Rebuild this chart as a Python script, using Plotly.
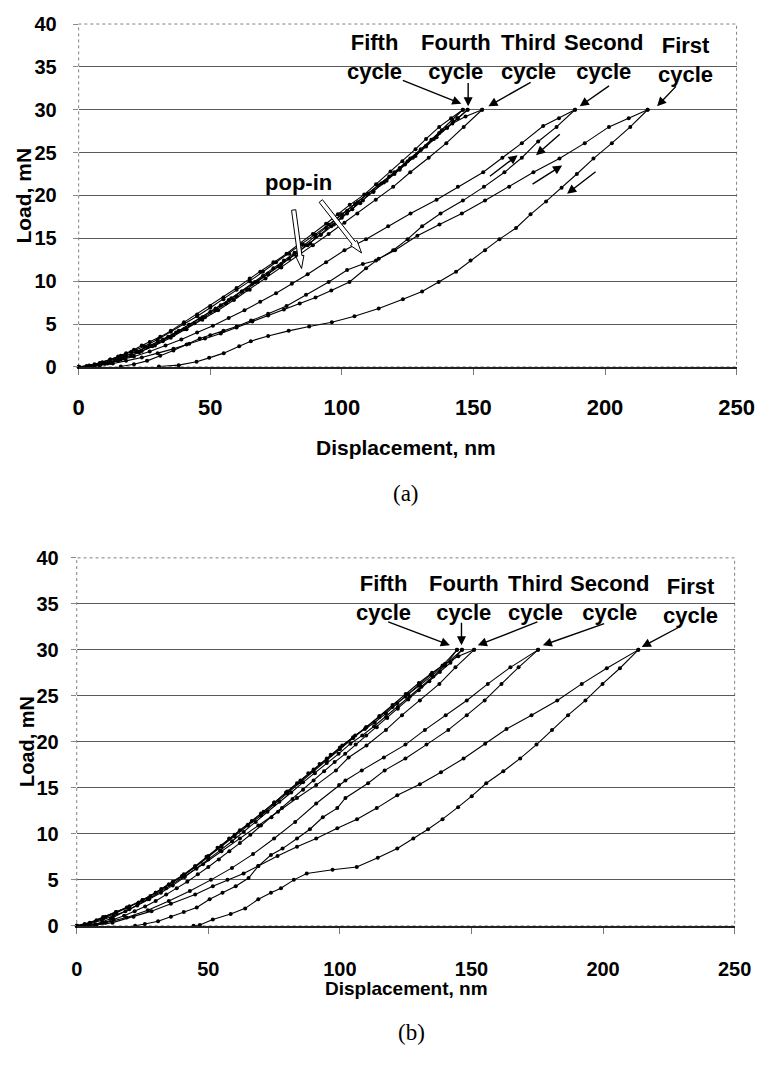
import plotly.graph_objects as go

# ---------------- data: load (mN) vs displacement (nm) ----------------
# (a) five loading/unloading cycles
a_c1_load_x = [0, 4, 8, 13, 18, 24, 30, 36, 42, 48, 54, 60, 66, 72, 78, 84, 90, 96, 102.9, 109.2, 114, 120.2, 128.7, 137.1, 145.6, 154.4, 163.6, 172.8, 182.7, 192.3, 201.5, 209, 216.2]
a_c1_load_y = [0, 0.05, 0.2, 0.4, 0.7, 1.1, 1.6, 2.1, 2.7, 3.3, 3.9, 4.6, 5.3, 6.0, 6.7, 7.4, 8.1, 8.9, 9.9, 11.5, 12.6, 13.6, 15.3, 16.6, 17.9, 19.4, 21.0, 22.7, 24.3, 26.1, 28.0, 29.0, 30.0]
a_c1_unload_x = [216.2, 209.6, 202.6, 195.6, 189.3, 183.5, 177.6, 171.7, 166.2, 159.9, 154.4, 148.9, 143.4, 136.8, 130.5, 123.2, 114.0, 104.8, 96.2, 87.6, 79.8, 72.0, 65.4, 61.0, 55.1, 49.6, 44.8, 38.0, 30.5]
a_c1_unload_y = [30.0, 28.0, 26.1, 24.3, 22.5, 20.9, 19.3, 17.8, 16.2, 14.9, 13.6, 12.4, 11.1, 9.9, 8.8, 7.9, 6.8, 5.9, 5.2, 4.7, 4.2, 3.6, 3.0, 2.4, 1.6, 1.05, 0.6, 0.2, 0.05]
a_c2_load_x = [0, 5, 10, 15, 21, 27, 33, 39, 45, 51, 57, 63, 69, 75, 81, 87, 94, 101, 109.2, 117.6, 126.1, 136.0, 144.1, 153.7, 161.0, 168.4, 176.5, 182.5, 188.6]
a_c2_load_y = [0, 0.1, 0.35, 0.7, 1.2, 1.8, 2.5, 3.2, 4.0, 4.8, 5.7, 6.6, 7.6, 8.6, 9.7, 10.8, 12.2, 13.6, 14.9, 16.4, 17.9, 19.5, 21.0, 22.7, 24.4, 26.1, 28.1, 29.0, 30.0]
a_c2_unload_x = [188.6, 181.6, 174.6, 168.4, 161.8, 154.0, 146.0, 137.5, 130.5, 125.0, 119.5, 113.0, 108.0, 102.0, 95.0, 86.4, 79.0, 72.0, 65.5, 60.0, 55.0, 50.0, 46.0, 41.0, 36.0, 31.0, 26.0, 21.0, 16.0]
a_c2_unload_y = [30.0, 28.0, 26.3, 24.4, 22.7, 21.0, 19.4, 17.9, 16.4, 14.9, 13.6, 12.4, 12.0, 11.3, 9.9, 8.4, 7.1, 6.2, 5.4, 4.7, 4.2, 3.7, 3.3, 2.6, 1.9, 1.3, 0.7, 0.3, 0.05]
a_c3_load_x = [0, 4, 8, 12, 17, 22, 27, 32, 37, 42, 47, 52, 57, 62, 67, 72, 77, 82, 87, 92, 97, 102, 107, 112, 117, 122, 127, 132, 137, 142, 147, 153.3]
a_c3_load_y = [0, 0.1, 0.35, 0.7, 1.2, 1.8, 2.5, 3.2, 4.0, 4.9, 5.8, 6.8, 7.8, 8.8, 9.9, 10.9, 12.0, 13.1, 14.2, 15.4, 16.6, 17.9, 19.1, 20.4, 21.7, 23.0, 24.4, 25.8, 27.3, 28.4, 29.2, 30.0]
a_c3_unload_x = [153.3, 146.3, 139.7, 133.0, 126.0, 119.5, 112.9, 105.9, 101.0, 95.0, 89.0, 83.0, 77.0, 71.0, 65.0, 59.0, 53.0, 47.0, 41.0, 35.0, 29.0, 23.0, 17.0, 11.0, 6.0]
a_c3_unload_y = [30.0, 28.0, 26.1, 24.4, 22.7, 21.0, 19.5, 17.9, 16.8, 15.5, 14.2, 12.9, 11.6, 10.3, 9.0, 7.8, 6.6, 5.5, 4.4, 3.4, 2.5, 1.7, 1.0, 0.4, 0.1]
a_c4_load_x = [0, 4, 8, 12, 16, 20, 25, 30, 35, 40, 45, 50, 55, 60, 65, 70, 75, 80, 85, 90, 95, 100, 105, 110, 115, 120, 125, 130, 135, 140, 144, 147.8]
a_c4_load_y = [0, 0.15, 0.45, 0.85, 1.3, 1.75, 2.4, 3.2, 4.1, 5.0, 5.9, 6.9, 7.9, 9.0, 10.0, 11.1, 12.2, 13.2, 14.3, 15.4, 16.6, 17.8, 19.0, 20.2, 21.4, 22.7, 24.0, 25.3, 26.6, 27.9, 29.0, 30.0]
a_c4_unload_x = [147.8, 144, 140, 136, 132, 128, 124, 120, 116, 112, 108, 104, 100, 96, 92, 88, 84, 80, 76, 72, 68, 64, 60, 56, 52, 48, 44, 40, 36, 32, 28, 24, 20, 16, 12, 8, 5]
a_c4_unload_y = [30.0, 29.0, 27.9, 26.8, 25.7, 24.6, 23.6, 22.5, 21.5, 20.5, 19.4, 18.4, 17.4, 16.4, 15.4, 14.4, 13.5, 12.6, 11.7, 10.8, 9.9, 9.0, 8.2, 7.4, 6.6, 5.8, 5.1, 4.4, 3.7, 3.0, 2.4, 1.85, 1.3, 0.85, 0.45, 0.15, 0]
a_c5_load_x = [0, 3, 6, 9, 12, 15, 18, 21, 24, 27, 31, 35, 40, 45, 50, 55, 60, 65, 69, 74, 79, 84, 89, 94, 98.5, 103, 108.5, 113, 118.5, 123, 128, 132, 137, 141.5, 146]
a_c5_load_y = [0, 0.1, 0.3, 0.55, 0.85, 1.2, 1.6, 2.0, 2.5, 2.9, 3.5, 4.2, 5.2, 6.1, 7.1, 8.1, 9.2, 10.3, 11.1, 12.2, 13.2, 14.4, 15.5, 16.7, 17.8, 18.9, 20.1, 21.3, 22.8, 24.0, 25.4, 26.6, 28.0, 29.0, 30.0]
a_c5_unload_x = [146, 142, 138, 134, 130, 126, 122, 118, 114, 110, 106, 102, 98, 94, 90, 86, 82, 78, 74, 70, 66, 62, 58, 54, 50, 46, 42, 38, 34, 30, 26, 22, 18, 14, 10, 6, 3]
a_c5_unload_y = [30.0, 28.8, 27.6, 26.5, 25.4, 24.3, 23.2, 22.2, 21.2, 20.2, 19.2, 18.2, 17.2, 16.2, 15.2, 14.2, 13.3, 12.4, 11.5, 10.6, 9.7, 8.8, 8.0, 7.2, 6.4, 5.6, 4.9, 4.2, 3.5, 2.9, 2.3, 1.8, 1.3, 0.8, 0.4, 0.15, 0]

# (b) five loading/unloading cycles
b_c1_load_x = [0, 7.5, 13.6, 21.6, 28.4, 35.8, 45.0, 51.7, 57.3, 63.4, 69.0, 76.3, 83.7, 91.0, 99.0, 106.5, 114.0, 121.8, 130.4, 138.4, 147.0, 155.2, 163.3, 172.8, 182.6, 191.9, 201.4, 213.4]
b_c1_load_y = [0, 0.1, 0.35, 1.0, 1.6, 2.4, 3.4, 4.3, 5.0, 5.7, 6.5, 7.6, 8.6, 9.5, 10.6, 11.6, 12.8, 14.2, 15.4, 16.7, 18.2, 19.8, 21.4, 22.9, 24.5, 26.3, 28.0, 30.0]
b_c1_unload_x = [213.4, 206.4, 199.8, 193.3, 186.7, 180.6, 174.7, 168.5, 162.1, 155.6, 150.1, 144.9, 139.0, 133.5, 127.9, 121.8, 114.4, 106.4, 97.2, 87.4, 82.5, 77.6, 73.8, 69.0, 64.0, 58.5, 51.7, 46.8, 44.4]
b_c1_unload_y = [30.0, 28.0, 26.3, 24.5, 22.9, 21.3, 19.7, 18.2, 16.8, 15.5, 14.1, 12.9, 11.6, 10.5, 9.5, 8.4, 7.4, 6.4, 6.1, 5.7, 5.0, 4.1, 3.6, 2.9, 1.9, 1.3, 0.7, 0.1, 0.0]
b_c2_load_x = [0, 4, 11, 19, 27, 35, 43, 51, 59, 67, 75, 83, 91, 99.7, 102.1, 108.3, 116.7, 124.9, 132.3, 140.2, 148.2, 156.2, 164.8, 175.3]
b_c2_load_y = [0, 0.05, 0.35, 0.9, 1.7, 2.7, 3.8, 5.0, 6.3, 7.8, 9.5, 11.3, 13.3, 15.3, 15.8, 16.9, 18.3, 19.7, 21.3, 22.9, 24.5, 26.3, 28.1, 30.0]
b_c2_unload_x = [175.3, 167.9, 161.4, 155.0, 148.2, 141.2, 132.9, 124.9, 117.0, 110.7, 102.1, 99.0, 93.5, 88.6, 83.7, 78.2, 73.8, 69.0, 65.3, 60.4, 55.4, 50.5, 45.6, 40.7, 35.8, 30.9, 25.9, 22.2]
b_c2_unload_y = [30.0, 28.1, 26.3, 24.5, 22.9, 21.3, 19.7, 18.2, 16.9, 15.5, 13.9, 12.8, 11.8, 10.5, 9.5, 8.4, 7.7, 6.5, 5.2, 4.3, 3.6, 2.9, 2.0, 1.5, 1.0, 0.5, 0.2, 0.0]
b_c3_load_x = [0, 5, 10, 15, 20, 25, 30, 35, 40, 45, 50, 55, 60, 65, 70, 75, 80, 85, 90, 95, 100, 105, 110, 115, 120, 125, 130, 135, 140, 145, 151]
b_c3_load_y = [0, 0.3, 0.8, 1.4, 2.1, 2.8, 3.6, 4.5, 5.4, 6.4, 7.5, 8.6, 9.7, 10.9, 12.0, 13.2, 14.4, 15.6, 16.8, 18.0, 19.2, 20.4, 21.6, 22.8, 24.0, 25.2, 26.4, 27.5, 28.5, 29.3, 30.0]
b_c3_unload_x = [151.0, 143.9, 137.8, 130.4, 123.6, 117.5, 110.1, 103.3, 98.5, 91.0, 83.7, 76.5, 69.0, 62.0, 55.0, 48.0, 41.0, 34.0, 27.0, 20.0, 13.0, 7.0]
b_c3_unload_y = [30.0, 28.1, 26.3, 24.5, 22.9, 21.3, 19.6, 18.3, 16.9, 15.3, 13.9, 12.4, 10.9, 9.5, 8.1, 6.7, 5.4, 4.1, 2.9, 1.8, 0.8, 0.15]
b_c4_load_x = [0, 5, 10, 15, 20, 25, 30, 35, 40, 45, 50, 55, 60, 65, 70, 75, 80, 85, 90, 95, 100, 105, 110, 115, 120, 125, 130, 135, 140, 146.4]
b_c4_load_y = [0, 0.35, 0.95, 1.5, 2.1, 2.8, 3.6, 4.5, 5.4, 6.4, 7.6, 8.7, 9.9, 11.0, 12.2, 13.4, 14.6, 15.8, 17.0, 18.2, 19.4, 20.5, 21.6, 22.7, 23.8, 24.9, 26.1, 27.2, 28.4, 30.0]
b_c4_unload_x = [146.4, 142, 138, 134, 130, 126, 122, 118, 114, 110, 106, 102, 98, 94, 90, 86, 82, 78, 74, 70, 66, 62, 58, 54, 50, 46, 42, 38, 34, 30, 26, 22, 18, 14, 10, 7, 4]
b_c4_unload_y = [30.0, 28.6, 27.6, 26.6, 25.6, 24.6, 23.6, 22.6, 21.6, 20.7, 19.7, 18.7, 17.8, 16.8, 15.8, 14.8, 13.8, 12.8, 11.8, 10.9, 9.9, 9.0, 8.1, 7.2, 6.4, 5.6, 4.8, 4.1, 3.4, 2.7, 2.1, 1.6, 1.1, 0.7, 0.35, 0.1, 0]
b_c5_load_x = [0, 3, 7.5, 11, 14.9, 19, 23.5, 28, 32.1, 36.5, 40.7, 45, 49.3, 53.5, 57.9, 62, 66.5, 71, 75.1, 79.5, 83.7, 88, 92.3, 96.5, 100.9, 105.8, 109.5, 113.2, 117.5, 121.8, 126, 130.4, 134.5, 139, 144.5]
b_c5_load_y = [0, 0.2, 0.6, 1.0, 1.5, 2.0, 2.55, 3.25, 4.0, 4.8, 5.6, 6.5, 7.5, 8.5, 9.5, 10.4, 11.4, 12.4, 13.4, 14.5, 15.5, 16.6, 17.6, 18.6, 19.6, 20.7, 21.4, 22.1, 23.1, 24.2, 25.2, 26.3, 27.3, 28.3, 30.0]
b_c5_unload_x = [144.5, 140, 135.5, 131, 126.5, 122, 117.5, 113, 108.5, 104, 99.5, 95, 90.5, 86, 81.5, 77, 72.5, 68, 63.5, 59, 54.5, 50, 45.5, 41, 36.5, 32, 27.5, 23, 18.5, 14, 9.5, 5, 2]
b_c5_unload_y = [30.0, 28.3, 27.1, 26.0, 24.9, 23.8, 22.7, 21.7, 20.7, 19.8, 18.7, 17.7, 16.6, 15.6, 14.5, 13.5, 12.4, 11.3, 10.2, 9.2, 8.2, 7.2, 6.2, 5.3, 4.4, 3.6, 2.9, 2.2, 1.6, 1.1, 0.6, 0.2, 0]

x_ticks = [0, 50, 100, 150, 200, 250]
y_ticks = [0, 5, 10, 15, 20, 25, 30, 35, 40]
cycle_names = ["Fifth", "Fourth", "Third", "Second", "First"]

# cycle label positions (data units) and arrow tail -> head
a_label_x = [112.3, 143.2, 170.8, 199.6, 230.5]
a_label_y = [36.1, 36.1, 36.1, 36.1, 35.8]
a_arrow_tail = [(122.6, 33.5), (148.0, 33.3), (172.3, 33.3), (202.1, 32.9), (227.5, 32.9)]
a_arrow_head = [(145.4, 30.7), (148.0, 30.4), (155.7, 30.4), (190.4, 30.4), (219.8, 30.4)]
a_dir_tail = [(155.7, 22.1), (183.4, 27.3), (171.9, 21.2), (197.0, 22.9)]
a_dir_head = [(166.8, 24.7), (173.8, 24.7), (183.7, 23.5), (185.6, 20.2)]
popin_xy = (83.6, 21.5)
popin_tail = [(81.7, 18.3), (92.0, 19.35)]
popin_tip = [(84.7, 11.47), (107.5, 13.29)]

b_label_x = [116.7, 147.3, 174.5, 202.5, 233.1]
b_label_y = [35.6, 35.6, 35.6, 35.6, 35.3]
b_arrow_tail = [(117.8, 33.1), (146.2, 33.1), (175.6, 33.1), (201.0, 32.9), (229.7, 32.6)]
b_arrow_head = [(141.8, 30.5), (146.2, 30.5), (152.4, 30.5), (177.1, 30.5), (214.7, 30.3)]

# ---------------- layout geometry ----------------
W, H = 773, 1074
A_LEFT, A_RIGHT, A_TOP, A_BOTTOM = 75, 754, 13.3, 363.3
B_LEFT, B_RIGHT, B_TOP, B_BOTTOM = 73, 752, 558.3, 934
X_MAX, Y_MAX = 250, 40

FONT = "Liberation Sans, Arial, sans-serif"
SERIF = "Liberation Serif, Times New Roman, serif"

fig = go.Figure()

a_series = [
    (a_c1_load_x, a_c1_load_y), (a_c1_unload_x, a_c1_unload_y),
    (a_c2_load_x, a_c2_load_y), (a_c2_unload_x, a_c2_unload_y),
    (a_c3_load_x, a_c3_load_y), (a_c3_unload_x, a_c3_unload_y),
    (a_c4_load_x, a_c4_load_y), (a_c4_unload_x, a_c4_unload_y),
    (a_c5_load_x, a_c5_load_y), (a_c5_unload_x, a_c5_unload_y),
]
b_series = [
    (b_c1_load_x, b_c1_load_y), (b_c1_unload_x, b_c1_unload_y),
    (b_c2_load_x, b_c2_load_y), (b_c2_unload_x, b_c2_unload_y),
    (b_c3_load_x, b_c3_load_y), (b_c3_unload_x, b_c3_unload_y),
    (b_c4_load_x, b_c4_load_y), (b_c4_unload_x, b_c4_unload_y),
    (b_c5_load_x, b_c5_load_y), (b_c5_unload_x, b_c5_unload_y),
]

for xs, ys in a_series:
    fig.add_trace(go.Scatter(x=xs, y=ys, mode="lines+markers", xaxis="x", yaxis="y",
                             line=dict(color="black", width=1.1),
                             marker=dict(color="black", size=4),
                             cliponaxis=False, showlegend=False))
for xs, ys in b_series:
    fig.add_trace(go.Scatter(x=xs, y=ys, mode="lines+markers", xaxis="x2", yaxis="y2",
                             line=dict(color="black", width=1.1),
                             marker=dict(color="black", size=4),
                             cliponaxis=False, showlegend=False))


def xaxis_cfg(left, right, anchor, size, standoff):
    return dict(domain=[left / W, right / W], range=[0, X_MAX], anchor=anchor,
                tickvals=x_ticks, ticks="outside", ticklen=6, tickcolor="#777",
                showline=True, linecolor="#222", linewidth=1.5,
                showgrid=False, zeroline=False, fixedrange=True,
                ticklabelstandoff=standoff,
                tickfont=dict(family=FONT, size=size, color="black", weight="bold"))


def yaxis_cfg(top, bottom, anchor, size, standoff):
    return dict(domain=[1 - bottom / H, 1 - top / H], range=[0, Y_MAX], anchor=anchor,
                tickvals=y_ticks, ticks="outside", ticklen=5, tickcolor="#888",
                showline=False, showgrid=True, gridcolor="#5a5a5a", gridwidth=1,
                zeroline=False, fixedrange=True, ticklabelstandoff=standoff,
                tickfont=dict(family=FONT, size=size, color="black", weight="bold"))


annotations = []
shapes = []


def add_panel_text(label_x, label_y, tails, heads, xr, yr, size):
    for name, lx, ly in zip(cycle_names, label_x, label_y):
        annotations.append(dict(x=lx, y=ly, xref=xr, yref=yr, text=name + "<br>cycle",
                                showarrow=False, xanchor="center", yanchor="middle",
                                font=dict(family=FONT, size=size, color="black", weight="bold")))
    for (tx, ty), (hx, hy) in zip(tails, heads):
        annotations.append(dict(x=hx, y=hy, ax=tx, ay=ty, xref=xr, yref=yr,
                                axref=xr, ayref=yr, text="", showarrow=True,
                                arrowhead=2, arrowsize=1.3, arrowwidth=1.4,
                                arrowcolor="black", standoff=0, startstandoff=0))


add_panel_text(a_label_x, a_label_y, a_arrow_tail, a_arrow_head, "x", "y", 22)
add_panel_text(b_label_x, b_label_y, b_arrow_tail, b_arrow_head, "x2", "y2", 22)

# direction-of-travel arrows in (a)
for (tx, ty), (hx, hy) in zip(a_dir_tail, a_dir_head):
    annotations.append(dict(x=hx, y=hy, ax=tx, ay=ty, xref="x", yref="y",
                            axref="x", ayref="y", text="", showarrow=True,
                            arrowhead=2, arrowsize=1.3, arrowwidth=1.4,
                            arrowcolor="black", standoff=0, startstandoff=0))

annotations.append(dict(x=popin_xy[0], y=popin_xy[1], xref="x", yref="y", text="pop-in",
                        showarrow=False, xanchor="center", yanchor="middle",
                        font=dict(family=FONT, size=22, color="black", weight="bold")))


# hollow "pop-in" pointers, built in screen pixels and mapped back to data units
def a_to_px(x, y):
    return (A_LEFT + x / X_MAX * (A_RIGHT - A_LEFT),
            A_BOTTOM - y / Y_MAX * (A_BOTTOM - A_TOP))


def a_from_px(px, py):
    return ((px - A_LEFT) / (A_RIGHT - A_LEFT) * X_MAX,
            (A_BOTTOM - py) / (A_BOTTOM - A_TOP) * Y_MAX)


for (tx, ty), (hx, hy) in zip(popin_tail, popin_tip):
    p0 = a_to_px(tx, ty)
    p1 = a_to_px(hx, hy)
    dx, dy = p1[0] - p0[0], p1[1] - p0[1]
    ln = (dx * dx + dy * dy) ** 0.5
    ux, uy = dx / ln, dy / ln
    nx, ny = -uy, ux
    hw, HW, hl = 2.2, 4.2, 13.0
    neck = (p1[0] - ux * hl, p1[1] - uy * hl)
    pts = [
        (p0[0] + nx * hw, p0[1] + ny * hw),
        (neck[0] + nx * hw, neck[1] + ny * hw),
        (neck[0] + nx * HW, neck[1] + ny * HW),
        p1,
        (neck[0] - nx * HW, neck[1] - ny * HW),
        (neck[0] - nx * hw, neck[1] - ny * hw),
        (p0[0] - nx * hw, p0[1] - ny * hw),
    ]
    dpts = [a_from_px(*p) for p in pts]
    path = "M " + " L ".join(f"{x:.3f},{y:.3f}" for x, y in dpts) + " Z"
    shapes.append(dict(type="path", path=path, xref="x", yref="y",
                       fillcolor="white", line=dict(color="black", width=1), layer="above"))

# dotted plot-area frames
for xr, yr in (("x", "y"), ("x2", "y2")):
    shapes.append(dict(type="rect", xref=f"{xr} domain", yref=f"{yr} domain",
                       x0=0, x1=1, y0=0, y1=1,
                       line=dict(color="#808080", width=1, dash="dot"), layer="below"))

# axis titles and panel captions
annotations += [
    dict(x=413 / W, y=1 - 446 / H, xref="paper", yref="paper", text="Displacement, nm",
         showarrow=False, xanchor="center", yanchor="middle",
         font=dict(family=FONT, size=21, color="black", weight="bold")),
    dict(x=18 / W, y=1 - 188 / H, xref="paper", yref="paper", text="Load, mN", textangle=-90,
         showarrow=False, xanchor="center", yanchor="middle",
         font=dict(family=FONT, size=21, color="black", weight="bold")),
    dict(x=413 / W, y=1 - 493 / H, xref="paper", yref="paper", text="(a)",
         showarrow=False, xanchor="center", yanchor="middle",
         font=dict(family=SERIF, size=23, color="black")),
    dict(x=413 / W, y=1 - 998 / H, xref="paper", yref="paper", text="Displacement, nm",
         showarrow=False, xanchor="center", yanchor="middle",
         font=dict(family=FONT, size=19, color="black", weight="bold")),
    dict(x=21 / W, y=1 - 746 / H, xref="paper", yref="paper", text="Load, mN", textangle=-90,
         showarrow=False, xanchor="center", yanchor="middle",
         font=dict(family=FONT, size=20, color="black", weight="bold")),
    dict(x=419 / W, y=1 - 1043 / H, xref="paper", yref="paper", text="(b)",
         showarrow=False, xanchor="center", yanchor="middle",
         font=dict(family=SERIF, size=23, color="black")),
]

fig.update_layout(
    width=W, height=H,
    margin=dict(l=0, r=0, t=0, b=0),
    paper_bgcolor="white", plot_bgcolor="white",
    showlegend=False,
    xaxis=xaxis_cfg(A_LEFT, A_RIGHT, "y", 22, 14),
    yaxis=yaxis_cfg(A_TOP, A_BOTTOM, "x", 20, 12),
    xaxis2=xaxis_cfg(B_LEFT, B_RIGHT, "y2", 20, 18),
    yaxis2=yaxis_cfg(B_TOP, B_BOTTOM, "x2", 20, 8),
    annotations=annotations,
    shapes=shapes,
)

fig.write_html("out.html", include_plotlyjs=True, config={"displayModeBar": False})
